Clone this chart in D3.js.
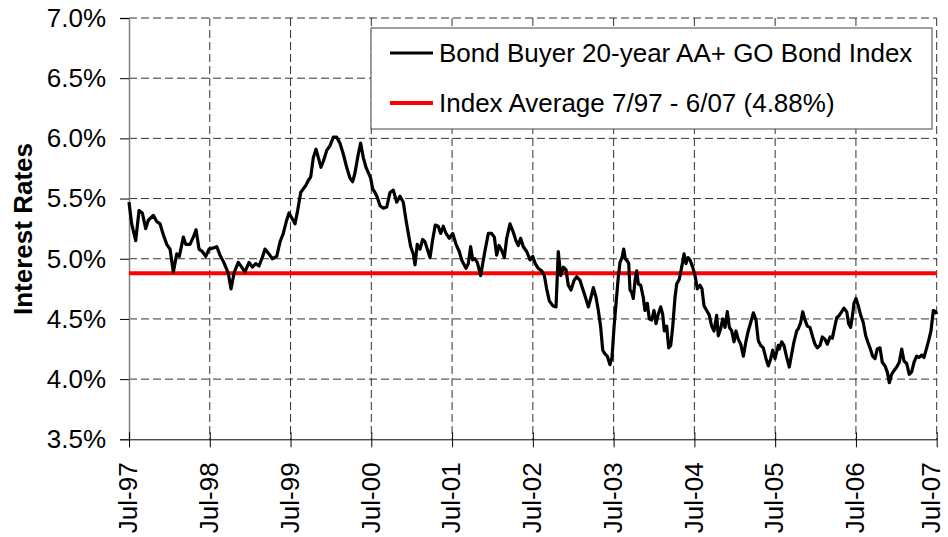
<!DOCTYPE html>
<html>
<head>
<meta charset="utf-8">
<script src="https://cdn.jsdelivr.net/npm/d3@7"></script>
<style>
  body { margin: 0; background: #fff; }
  svg { display: block; font-family: Arial, "Liberation Sans", sans-serif; }
</style>
</head>
<body>
<svg id="chart" width="948" height="537"></svg>
<script>
// Bond Buyer 20-year index (decimal year, % rate)
const years = [
  1997.500, 1997.533, 1997.583, 1997.624, 1997.665, 1997.707, 1997.739, 1997.801, 1997.843, 1997.884,
  1997.925, 1997.967, 1998.008, 1998.049, 1998.091, 1998.123, 1998.173, 1998.202, 1998.255, 1998.296,
  1998.330, 1998.367, 1998.408, 1998.450, 1998.491, 1998.544, 1998.586, 1998.627, 1998.680, 1998.729,
  1998.763, 1998.804, 1998.853, 1998.895, 1998.936, 1998.986, 1999.027, 1999.069, 1999.110, 1999.150,
  1999.184, 1999.233, 1999.274, 1999.329, 1999.370, 1999.410, 1999.452, 1999.481, 1999.514, 1999.555,
  1999.588, 1999.626, 1999.658, 1999.691, 1999.720, 1999.750, 1999.782, 1999.815, 1999.844, 1999.877,
  1999.906, 1999.948, 1999.989, 2000.030, 2000.072, 2000.112, 2000.153, 2000.195, 2000.236, 2000.269,
  2000.297, 2000.339, 2000.368, 2000.401, 2000.434, 2000.467, 2000.492, 2000.517, 2000.546, 2000.574,
  2000.608, 2000.649, 2000.691, 2000.731, 2000.772, 2000.814, 2000.855, 2000.896, 2000.930, 2000.958,
  2000.988, 2001.020, 2001.041, 2001.069, 2001.103, 2001.136, 2001.165, 2001.193, 2001.227, 2001.260,
  2001.292, 2001.329, 2001.359, 2001.391, 2001.425, 2001.466, 2001.508, 2001.549, 2001.589, 2001.619,
  2001.672, 2001.701, 2001.730, 2001.755, 2001.784, 2001.812, 2001.854, 2001.887, 2001.911, 2001.949,
  2001.990, 2002.023, 2002.052, 2002.081, 2002.114, 2002.147, 2002.176, 2002.217, 2002.258, 2002.291,
  2002.320, 2002.349, 2002.382, 2002.424, 2002.465, 2002.498, 2002.530, 2002.567, 2002.609, 2002.642,
  2002.671, 2002.704, 2002.746, 2002.787, 2002.815, 2002.845, 2002.877, 2002.910, 2002.939, 2002.972,
  2003.010, 2003.043, 2003.084, 2003.117, 2003.146, 2003.187, 2003.220, 2003.249, 2003.282, 2003.311,
  2003.340, 2003.365, 2003.393, 2003.422, 2003.455, 2003.480, 2003.505, 2003.530, 2003.558, 2003.579,
  2003.604, 2003.625, 2003.645, 2003.670, 2003.687, 2003.703, 2003.724, 2003.744, 2003.765, 2003.786,
  2003.806, 2003.835, 2003.867, 2003.888, 2003.917, 2003.942, 2003.971, 2004.000, 2004.025, 2004.053,
  2004.083, 2004.107, 2004.128, 2004.157, 2004.182, 2004.207, 2004.231, 2004.260, 2004.281, 2004.313,
  2004.343, 2004.372, 2004.396, 2004.421, 2004.446, 2004.479, 2004.508, 2004.536, 2004.569, 2004.594,
  2004.619, 2004.652, 2004.685, 2004.714, 2004.743, 2004.776, 2004.796, 2004.826, 2004.851, 2004.879,
  2004.908, 2004.933, 2004.962, 2004.991, 2005.015, 2005.044, 2005.074, 2005.106, 2005.140, 2005.167,
  2005.197, 2005.230, 2005.263, 2005.291, 2005.321, 2005.353, 2005.387, 2005.415, 2005.445, 2005.470,
  2005.498, 2005.539, 2005.551, 2005.581, 2005.609, 2005.643, 2005.675, 2005.705, 2005.733, 2005.767,
  2005.787, 2005.816, 2005.841, 2005.870, 2005.898, 2005.931, 2005.965, 2005.993, 2006.022, 2006.055,
  2006.084, 2006.117, 2006.146, 2006.179, 2006.208, 2006.233, 2006.262, 2006.294, 2006.324, 2006.352,
  2006.386, 2006.410, 2006.435, 2006.460, 2006.476, 2006.501, 2006.529, 2006.559, 2006.591, 2006.621,
  2006.646, 2006.674, 2006.707, 2006.736, 2006.764, 2006.798, 2006.826, 2006.860, 2006.888, 2006.913,
  2006.942, 2006.971, 2007.005, 2007.037, 2007.067, 2007.095, 2007.128, 2007.160, 2007.190, 2007.219,
  2007.252, 2007.284, 2007.314, 2007.342, 2007.376, 2007.404, 2007.429, 2007.458, 2007.487, 2007.500
];

const rates = [
  5.47, 5.29, 5.15, 5.40, 5.38, 5.25, 5.32, 5.36, 5.31, 5.29,
  5.20, 5.12, 5.08, 4.89, 5.04, 5.02, 5.18, 5.12, 5.12, 5.18,
  5.24, 5.08, 5.06, 5.02, 5.08, 5.09, 5.10, 5.03, 4.96, 4.88,
  4.75, 4.89, 4.97, 4.93, 4.89, 4.97, 4.93, 4.96, 4.94, 5.01,
  5.08, 5.04, 5.00, 5.02, 5.14, 5.21, 5.32, 5.38, 5.34, 5.29,
  5.40, 5.55, 5.58, 5.61, 5.65, 5.68, 5.84, 5.91, 5.84, 5.76,
  5.81, 5.90, 5.94, 6.01, 6.01, 5.96, 5.87, 5.76, 5.67, 5.64,
  5.71, 5.87, 5.96, 5.84, 5.76, 5.71, 5.67, 5.58, 5.55, 5.51,
  5.44, 5.42, 5.43, 5.55, 5.57, 5.47, 5.52, 5.47, 5.32, 5.21,
  5.10, 5.04, 4.95, 5.12, 5.08, 5.16, 5.14, 5.08, 5.01, 5.16,
  5.28, 5.27, 5.21, 5.27, 5.21, 5.17, 5.21, 5.12, 5.06, 4.99,
  4.92, 4.96, 5.10, 4.99, 5.00, 4.97, 4.86, 4.99, 5.08, 5.21,
  5.21, 5.18, 5.03, 5.11, 5.07, 5.01, 5.17, 5.29, 5.22, 5.15,
  5.11, 5.17, 5.10, 5.06, 4.99, 5.02, 4.96, 4.92, 4.90, 4.86,
  4.75, 4.65, 4.61, 4.60, 5.06, 4.86, 4.93, 4.91, 4.78, 4.74,
  4.82, 4.85, 4.82, 4.75, 4.69, 4.60, 4.68, 4.76, 4.68, 4.57,
  4.43, 4.24, 4.21, 4.19, 4.12, 4.18, 4.43, 4.63, 4.85, 4.97,
  5.01, 5.08, 5.00, 4.98, 4.96, 4.74, 4.72, 4.67, 4.82, 4.90,
  4.79, 4.78, 4.68, 4.57, 4.63, 4.50, 4.49, 4.57, 4.46, 4.54,
  4.60, 4.54, 4.40, 4.44, 4.26, 4.28, 4.43, 4.68, 4.79, 4.83,
  4.93, 5.04, 4.96, 5.01, 4.99, 4.93, 4.86, 4.75, 4.78, 4.75,
  4.61, 4.57, 4.53, 4.44, 4.40, 4.53, 4.36, 4.42, 4.50, 4.43,
  4.56, 4.43, 4.40, 4.31, 4.40, 4.33, 4.29, 4.19, 4.32, 4.40,
  4.47, 4.55, 4.49, 4.32, 4.28, 4.26, 4.17, 4.11, 4.17, 4.24,
  4.17, 4.28, 4.25, 4.31, 4.28, 4.18, 4.10, 4.21, 4.31, 4.40,
  4.42, 4.47, 4.56, 4.49, 4.44, 4.43, 4.35, 4.29, 4.26, 4.28,
  4.35, 4.33, 4.29, 4.35, 4.34, 4.42, 4.51, 4.53, 4.56, 4.59,
  4.56, 4.46, 4.43, 4.54, 4.63, 4.67, 4.61, 4.53, 4.47, 4.36,
  4.31, 4.26, 4.19, 4.17, 4.25, 4.26, 4.14, 4.11, 4.06, 3.97,
  4.04, 4.07, 4.10, 4.14, 4.25, 4.15, 4.13, 4.04, 4.06, 4.14,
  4.19, 4.18, 4.20, 4.18, 4.26, 4.33, 4.40, 4.57, 4.56, 4.54
];

const averageRate = 4.88;
const averageSpan = [1997.5, 2007.5];

const yTicks = [3.5, 4.0, 4.5, 5.0, 5.5, 6.0, 6.5, 7.0];
const xTicks = [1997.5, 1998.5, 1999.5, 2000.5, 2001.5, 2002.5, 2003.5, 2004.5, 2005.5, 2006.5, 2007.5];
const xTickLabels = ["Jul-97", "Jul-98", "Jul-99", "Jul-00", "Jul-01", "Jul-02", "Jul-03", "Jul-04", "Jul-05", "Jul-06", "Jul-07"];

const legendLabels = ["Bond Buyer 20-year AA+ GO Bond Index", "Index Average 7/97 - 6/07 (4.88%)"];
const legendColors = ["#000", "#ff0000"];

// Globals
const svg = d3.select("#chart");
const width = 948;
const height = 537;
const margin = { top: 18, right: 11.3, bottom: 97.7, left: 129 };

const xScale = d3.scaleLinear().domain([1997.5, 2007.5]).range([margin.left, width - margin.right]);
const yScale = d3.scaleLinear().domain([3.5, 7.0]).range([height - margin.bottom, margin.top]);

// Grid lines (dashed)
const grid = svg.append("g").attr("stroke", "#333").attr("stroke-width", 1).attr("stroke-dasharray", "8,4");

grid.selectAll(".hgrid")
  .data(yTicks.filter(d => d > 3.5))
  .join("line")
  .attr("class", "hgrid")
  .attr("x1", margin.left)
  .attr("x2", width - margin.right)
  .attr("y1", d => yScale(d))
  .attr("y2", d => yScale(d));

grid.selectAll(".vgrid")
  .data(xTicks.slice(1))
  .join("line")
  .attr("class", "vgrid")
  .attr("x1", d => xScale(d))
  .attr("x2", d => xScale(d))
  .attr("y1", margin.top)
  .attr("y2", height - margin.bottom);

// Y axis
const yAxis = svg.append("g")
  .attr("transform", `translate(${margin.left},0)`)
  .call(d3.axisLeft(yScale).tickValues(yTicks).tickSize(9).tickPadding(14).tickFormat(d => d3.format(".1f")(d) + "%"));

yAxis.select(".domain").attr("stroke", "#808080").attr("stroke-width", 1.5);
yAxis.selectAll(".tick line").attr("stroke", "#000");
yAxis.selectAll(".tick text")
  .attr("font-size", 26)
  .attr("fill", "#000")
  .attr("font-family", "Arial, 'Liberation Sans', sans-serif");

// X axis
const xAxis = svg.append("g")
  .attr("transform", `translate(0,${height - margin.bottom})`)
  .call(d3.axisBottom(xScale).tickValues(xTicks).tickSize(8).tickSizeOuter(0).tickFormat((d, i) => xTickLabels[i]));

xAxis.select(".domain").attr("stroke", "#000");
xAxis.selectAll(".tick line").attr("stroke", "#000").attr("y1", -7).attr("y2", 8);
xAxis.selectAll(".tick text")
  .attr("font-size", 26)
  .attr("fill", "#000")
  .attr("font-family", "Arial, 'Liberation Sans', sans-serif")
  .attr("text-anchor", "end")
  .attr("transform", "translate(0,23) rotate(-90)")
  .attr("x", 0)
  .attr("y", 0)
  // last label sits on the right edge, nudge it in a little
  .attr("dy", (d, i) => i === xTicks.length - 1 ? "0.12em" : "0.3em");

// Y axis title
svg.append("text")
  .attr("transform", "translate(32,229) rotate(-90)")
  .attr("text-anchor", "middle")
  .attr("font-size", 26)
  .attr("font-weight", "bold")
  .text("Interest Rates");

// Average line
const lineAvg = d3.line()
  .x(d => xScale(d))
  .y(() => yScale(averageRate));

svg.append("path")
  .datum(averageSpan)
  .attr("fill", "none")
  .attr("stroke", "#ff0000")
  .attr("stroke-width", 4)
  .attr("d", lineAvg);

// Index line
const lineIndex = d3.line()
  .x((d, i) => xScale(years[i]))
  .y(d => yScale(d));

svg.append("path")
  .datum(rates)
  .attr("fill", "none")
  .attr("stroke", "#000")
  .attr("stroke-width", 3.2)
  .attr("stroke-linejoin", "round")
  .attr("d", lineIndex);

// Legend
const legend = svg.append("g").attr("transform", "translate(371,28)");

legend.append("rect")
  .attr("width", 561)
  .attr("height", 101)
  .attr("fill", "#fff")
  .attr("stroke", "#444")
  .attr("stroke-width", 1);

legendLabels.forEach((label, i) => {
  const y = 25 + i * 50;
  legend.append("line")
    .attr("x1", 19).attr("x2", 62)
    .attr("y1", y).attr("y2", y)
    .attr("stroke", legendColors[i])
    .attr("stroke-width", i === 0 ? 3.2 : 4);
  legend.append("text")
    .attr("x", 68)
    .attr("y", y)
    .attr("dy", "0.36em")
    .attr("font-size", 26)
    .text(label);
});
</script>
</body>
</html>
